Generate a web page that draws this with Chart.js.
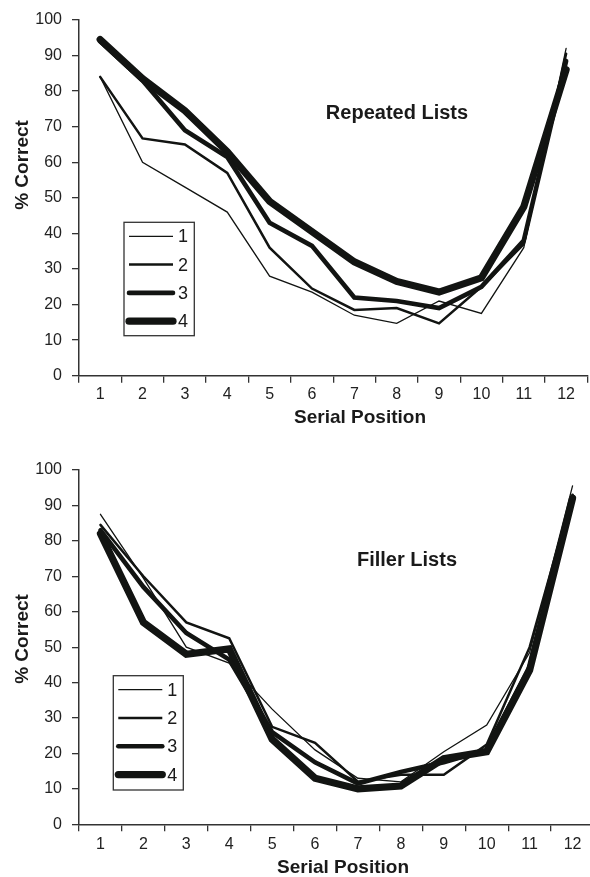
<!DOCTYPE html>
<html lang="en">
<head>
    <meta charset="UTF-8">
    <title>Serial Position Curves</title>
    <script src="https://cdn.jsdelivr.net/npm/chart.js"></script>
    <style>
        html, body { margin: 0; padding: 0; background: #fff; overflow: hidden; width: 590px; height: 877px; }
        .panel { position: absolute; left: 0; width: 600px; }
        #repeated { top: 0; height: 435px; }
        #filler { top: 435px; height: 442px; }
    </style>
</head>
<body>
    <div class="panel" id="repeated"><canvas id="repeatedChart"></canvas></div>
    <div class="panel" id="filler"><canvas id="fillerChart"></canvas></div>

    <script>
        // serial positions on the x axis
        const positions = ['1', '2', '3', '4', '5', '6', '7', '8', '9', '10', '11', '12'];
        const seriesNames = ['1', '2', '3', '4'];

        // Repeated Lists, % correct
        const repeated1 = [84, 60, 53, 46, 28, 23.5, 17, 14.7, 21, 17.5, 36, 92];
        const repeated2 = [84, 66.7, 65, 57, 36, 24.5, 18.5, 19, 14.7, 25, 37, 90.5];
        const repeated3 = [94, 83, 69, 61.5, 43, 36.5, 22, 21, 19, 25, 38, 88.5];
        const repeated4 = [94.5, 83.5, 74.5, 63, 49, 40.5, 32, 26.5, 23.5, 27.5, 47.5, 86];

        // Filler Lists, % correct
        const filler1 = [87.5, 69.5, 50, 45.5, 32.5, 21, 13, 12, 20.5, 28, 48.5, 95.5];
        const filler2 = [84.5, 70, 57, 52.5, 27.5, 23, 12, 14, 14, 22.5, 50, 93];
        const filler3 = [83, 67, 54, 46.5, 26, 17.5, 11.5, 14.8, 17.5, 21, 44.5, 92.5];
        const filler4 = [82, 57, 48, 49.5, 24, 13, 10, 10.8, 18.5, 20.5, 43.5, 92];

        const yMin = 0, yMax = 100, yStep = 10;

        const lineWidths = [1.3, 2.5, 4.6, 7.2];
        const ink = '#121412';
        const axisColor = '#333';
        const family = '"Liberation Sans", Arial, Helvetica, sans-serif';

        // titles, axis titles and the boxed legend sitting inside the plot
        const figurePlugin = {
            id: 'figure',
            afterDraw(chart, args, o) {
                const ctx = chart.ctx;
                ctx.save();
                ctx.fillStyle = '#1a1a1a';
                ctx.textAlign = 'center';
                ctx.textBaseline = 'middle';

                ctx.font = 'bold 20px ' + family;
                ctx.fillText(o.title, o.titleAt[0], o.titleAt[1]);

                ctx.font = 'bold 19px ' + family;
                ctx.fillText('Serial Position', o.xTitleAt[0], o.xTitleAt[1]);
                ctx.save();
                ctx.translate(o.yTitleAt[0], o.yTitleAt[1]);
                ctx.rotate(-Math.PI / 2);
                ctx.fillText('% Correct', 0, 0);
                ctx.restore();

                // legend
                const [bx, by, bw, bh] = o.legendBox;
                ctx.strokeStyle = axisColor;
                ctx.lineWidth = 1.3;
                ctx.strokeRect(bx, by, bw, bh);
                ctx.font = '18px ' + family;
                ctx.textAlign = 'left';
                chart.data.datasets.forEach((ds, i) => {
                    const ly = by + 14 + i * 28.3;
                    ctx.beginPath();
                    ctx.strokeStyle = ink;
                    ctx.lineWidth = ds.borderWidth;
                    ctx.lineCap = i < 2 ? 'butt' : 'round';
                    ctx.moveTo(bx + 5, ly);
                    ctx.lineTo(bx + 49, ly);
                    ctx.stroke();
                    ctx.fillText(ds.label, bx + 54, ly + 1);
                });
                ctx.restore();
            }
        };

        function makeChart(id, values, opts) {
            return new Chart(document.getElementById(id), {
                type: 'line',
                data: {
                    labels: positions,
                    datasets: values.map((v, i) => ({
                        label: seriesNames[i],
                        data: v,
                        borderColor: ink,
                        borderWidth: lineWidths[i],
                        borderCapStyle: 'round',
                        borderJoinStyle: 'miter',
                        pointRadius: 0,
                        tension: 0,
                        fill: false
                    }))
                },
                options: {
                    responsive: true,
                    maintainAspectRatio: false,
                    animation: false,
                    events: [],
                    layout: { padding: opts.padding },
                    plugins: {
                        legend: { display: false },
                        tooltip: { enabled: false },
                        figure: opts.figure
                    },
                    scales: {
                        x: {
                            type: 'category',
                            offset: true,
                            grid: { offset: true, drawOnChartArea: false, drawTicks: true, tickLength: 7, color: axisColor, lineWidth: 1.3 },
                            border: { color: axisColor, width: 1.5 },
                            ticks: { color: '#222', font: { family: family, size: 16 }, padding: opts.xPad, maxRotation: 0, autoSkip: false },
                            afterFit: s => { s.height = opts.xHeight; }
                        },
                        y: {
                            min: yMin,
                            max: yMax,
                            grid: { drawOnChartArea: false, drawTicks: true, tickLength: 7, color: axisColor, lineWidth: 1.3 },
                            border: { color: axisColor, width: 1.5 },
                            ticks: { stepSize: yStep, color: '#222', font: { family: family, size: 16 }, padding: 10 },
                            afterFit: s => { s.width = 79; }
                        }
                    }
                },
                plugins: [figurePlugin]
            });
        }

        makeChart('repeatedChart', [repeated1, repeated2, repeated3, repeated4], {
            padding: { top: 20, left: 0, right: 12.7, bottom: 0 },
            xHeight: 59.3,
            xPad: 2,
            figure: {
                title: 'Repeated Lists',
                titleAt: [397, 113],
                xTitleAt: [360, 418],
                yTitleAt: [23, 165],
                legendBox: [124, 222.3, 70.3, 113.4]
            }
        });

        makeChart('fillerChart', [filler1, filler2, filler3, filler4], {
            padding: { top: 35, left: 0, right: 6, bottom: 0 },
            xHeight: 52.7,
            xPad: 4,
            figure: {
                title: 'Filler Lists',
                titleAt: [407, 125],
                xTitleAt: [343, 433],
                yTitleAt: [23, 204],
                legendBox: [113.3, 240.7, 70, 114.3]
            }
        });
    </script>
</body>
</html>
